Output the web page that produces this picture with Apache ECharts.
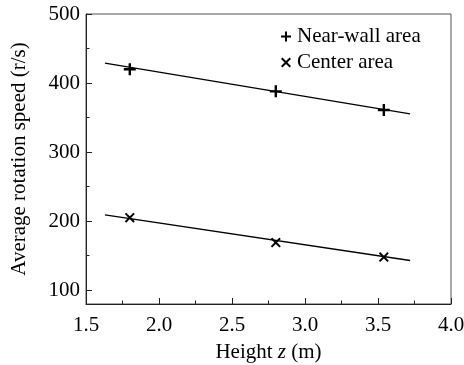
<!DOCTYPE html>
<html>
<head>
<meta charset="utf-8">
<script src="https://cdn.jsdelivr.net/npm/echarts@6/dist/echarts.min.js"></script>
<style>
	html, body { margin: 0; padding: 0; background: #fff; }
	#chart { width: 464px; height: 365px; }
</style>
</head>
<body>
<div id="chart"></div>
<script>
	// measured points
	var heights = [1.80, 2.80, 3.54];
	var nearWall = [420, 388, 361];
	var center = [205, 169, 148];

	// fitted lines (end points)
	var fitX = [1.63, 3.72];
	var nearWallFit = [428.7, 355.4];
	var centerFit = [209, 143];

	var yLabels = [100, 200, 300, 400, 500];
	var yMinor = [150, 250, 350, 450];

	function pairs(xs, ys) {
		var out = [];
		for (var i = 0; i < xs.length; i++) {
			out.push([xs[i], ys[i]]);
		}
		return out;
	}

	var plusPath = 'path://M4,0H6V4H10V6H6V10H4V6H0V4H4Z';
	var crossPath = 'path://M0,1.4L1.4,0L5,3.6L8.6,0L10,1.4L6.4,5L10,8.6L8.6,10L5,6.4L1.4,10L0,8.6L3.6,5Z';
	var font = 'Liberation Serif';
	var fs = 21;

	var chart = echarts.init(document.getElementById('chart'));

	function render() {
		chart.setOption({
			animation: false,
			grid: {
				left: 86, right: 13, top: 14, bottom: 61,
				outerBoundsMode: 'none',
				show: true, borderColor: '#555', borderWidth: 1
			},
			legend: {
				data: ['Near-wall area', 'Center area'],
				orient: 'vertical',
				left: 276, top: 21,
				itemWidth: 12, itemHeight: 10, itemGap: 5,
				textStyle: { fontFamily: font, fontSize: fs, color: '#000', lineHeight: 21 }
			},
			xAxis: {
				type: 'value',
				min: 1.5, max: 4.0, interval: 0.5,
				name: 'Height {i|z} (m)',
				nameLocation: 'middle',
				nameGap: 38,
				nameTextStyle: {
					fontFamily: font, fontSize: fs, color: '#000',
					rich: { i: { fontStyle: 'italic', fontFamily: font, fontSize: fs, color: '#000' } }
				},
				axisLine: { lineStyle: { color: '#222', width: 1 } },
				axisTick: { inside: true, length: 6, lineStyle: { color: '#222' } },
				minorTick: { show: true, splitNumber: 2, length: 3.5, lineStyle: { color: '#222' } },
				axisLabel: {
					fontFamily: font, fontSize: fs, color: '#000', margin: 11,
					formatter: function (v) { return v.toFixed(1); }
				},
				splitLine: { show: false }
			},
			yAxis: [{
				type: 'value',
				min: 80, max: 500,
				name: 'Average rotation speed (r/s)',
				nameLocation: 'middle',
				nameGap: 56,
				nameTextStyle: { fontFamily: font, fontSize: fs, color: '#000' },
				axisLine: { show: true, lineStyle: { color: '#222', width: 1 } },
				axisTick: { inside: true, length: 6, customValues: yLabels, lineStyle: { color: '#222' } },
				axisLabel: { fontFamily: font, fontSize: fs, color: '#000', margin: 6, customValues: yLabels },
				splitLine: { show: false }
			}, {
				type: 'value',
				min: 80, max: 500,
				position: 'left',
				axisLine: { show: false },
				axisTick: { show: true, inside: true, length: 3.5, customValues: yMinor, lineStyle: { color: '#222' } },
				axisLabel: { show: false },
				splitLine: { show: false }
			}],
			series: [{
				name: 'Near-wall fit',
				type: 'line',
				data: pairs(fitX, nearWallFit),
				symbol: 'none',
				lineStyle: { color: '#000', width: 1.3 },
				z: 2
			}, {
				name: 'Center fit',
				type: 'line',
				data: pairs(fitX, centerFit),
				symbol: 'none',
				lineStyle: { color: '#000', width: 1.3 },
				z: 2
			}, {
				name: 'Near-wall area',
				type: 'scatter',
				data: pairs(heights, nearWall),
				symbol: plusPath,
				symbolSize: 12,
				itemStyle: { color: '#000', opacity: 1 },
				z: 3
			}, {
				name: 'Center area',
				type: 'scatter',
				data: pairs(heights, center),
				symbol: crossPath,
				symbolSize: 10,
				itemStyle: { color: '#000', opacity: 1 },
				z: 3
			}]
		});
	}

	render();
	// redraw once the serif face is ready, so every label picks it up
	if (document.fonts && document.fonts.load) {
		document.fonts.load(fs + 'px "Liberation Serif"').then(function () {
			chart.clear();
			render();
		});
	}
</script>
</body>
</html>
